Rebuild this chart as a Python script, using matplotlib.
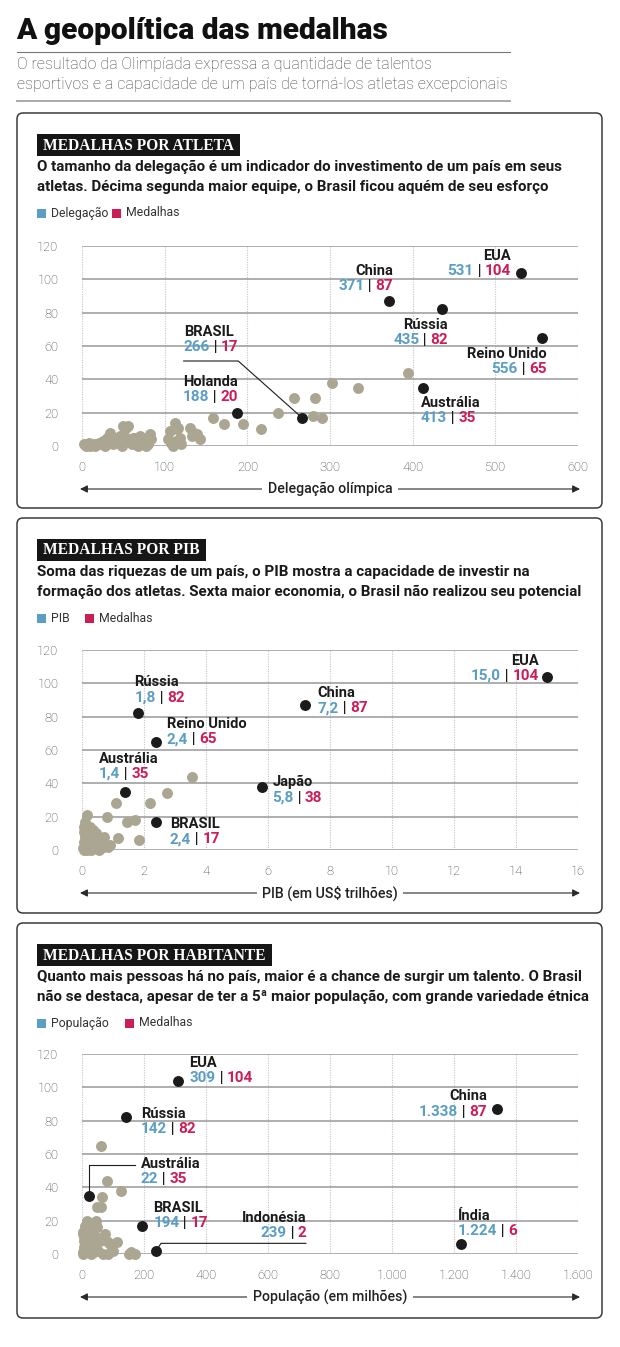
import matplotlib
matplotlib.use("Agg")
import matplotlib.pyplot as plt
from matplotlib.patches import FancyBboxPatch, Rectangle

W, H = 620, 1347
FONT = ["Roboto", "DejaVu Sans"]
SERIF = ["Liberation Serif", "DejaVu Serif"]

BLUE = "#5b9ec4"
RED = "#cc1d55"
GRAY_DOT = "#aba692"
DARK = "#1b1b1b"

# ---- painel 1: delegação x medalhas ----
atl_nomes = ["EUA", "China", "Rússia", "Reino Unido", "Austrália", "Holanda", "BRASIL"]
atl_deleg = [531, 371, 435, 556, 413, 188, 266]
atl_medal = [104, 87, 82, 65, 35, 20, 17]
atl_outros_x = [2, 8, 14, 20, 26, 30, 34, 36, 42, 46, 50, 52, 54, 58, 62, 66, 70, 72, 76, 80,
                82, 84, 5, 10, 16, 22, 28, 38, 44, 48, 60, 68, 74, 78, 40, 56, 64,
                106, 112, 115, 104, 108, 114, 118, 131, 135, 139, 143, 133, 110, 116, 120,
                158, 172, 195, 216, 237, 256, 282, 280, 290, 302, 334, 394]
atl_outros_y = [1, 2, 1, 2, 3, 5, 8, 4, 4, 6, 12, 10, 4, 4, 5, 3, 6, 4, 3, 1,
                7, 4, 0, 0, 0, 1, 0, 1, 2, 0, 1, 0, 1, 0, 3, 12, 5,
                9, 14, 10, 4, 2, 3, 5, 11, 8, 7, 4, 6, 0, 11, 1,
                17, 13, 13, 10, 20, 29, 29, 18, 17, 38, 35, 44]

# ---- painel 2: PIB x medalhas ----
pib_nomes = ["EUA", "Rússia", "China", "Reino Unido", "Austrália", "Japão", "BRASIL"]
pib_valor = [15.0, 1.8, 7.2, 2.4, 1.4, 5.8, 2.4]
pib_medal = [104, 82, 87, 65, 35, 38, 17]
pib_outros_x = [3.55, 2.75, 2.2, 1.1, 0.82, 1.46, 1.72, 1.15, 1.85,
                0.15, 0.1, 0.05, 0.2, 0.3, 0.46, 0.62, 0.73, 0.84, 0.26, 0.1, 0.15,
                0.42, 0.6, 0.3, 0.4, 0.05, 0.25, 0.36, 0.5, 0.67, 0.9, 0.46, 0.05,
                0.1, 0.2, 0.35, 0.55, 0.02, 0.08, 0.18, 0.28, 0.12, 0.7]
pib_outros_y = [44, 34, 28, 28, 20, 17, 18, 7, 6,
                21, 17, 14, 12, 10, 9, 6, 3, 2, 4, 2, 0,
                1, 1, 6, 5, 5, 14, 12, 4, 2, 3, 10, 0,
                8, 7, 2, 0, 1, 11, 3, 0, 13, 8]

# ---- painel 3: população x medalhas ----
pop_nomes = ["EUA", "Rússia", "China", "Austrália", "BRASIL", "Indonésia", "Índia"]
pop_valor = [309, 142, 1338, 22, 194, 239, 1224]
pop_medal = [104, 82, 87, 35, 17, 2, 6]
pop_outros_x = [62, 82, 127, 65, 60, 49, 17, 45, 10, 34, 46, 4, 41, 11, 16, 75, 3, 9,
                113, 83, 26, 90, 58, 36, 10, 4, 69, 101, 150, 170, 158, 85, 31, 53,
                48, 26, 15, 5, 8, 2, 20, 30, 40, 12, 22, 7]
pop_outros_y = [65, 44, 38, 34, 28, 28, 20, 20, 17, 18, 17, 13, 11, 14, 13, 12, 12, 12,
                7, 7, 10, 6, 8, 4, 2, 0, 0, 2, 0, 0, 1, 0, 6, 2,
                16, 14, 19, 8, 4, 1, 3, 0, 1, 6, 9, 10]

y_ticks = [0, 20, 40, 60, 80, 100, 120]
atl_xticks = [0, 100, 200, 300, 400, 500, 600]
pib_xticks = [0, 2, 4, 6, 8, 10, 12, 14, 16]
pop_xticks = [0, 200, 400, 600, 800, 1000, 1200, 1400, 1600]
pop_xlabels = ["0", "200", "400", "600", "800", "1.000", "1.200", "1.400", "1.600"]


def fmt_int(v):
    return f"{v:,}".replace(",", ".")


def fmt_pib(v):
    return f"{v:.1f}".replace(".", ",")


fig = plt.figure(figsize=(W / 100, H / 100), dpi=100)
renderer = fig.canvas.get_renderer()
bg = fig.add_axes([0, 0, 1, 1], zorder=0)
bg.set_xlim(0, W)
bg.set_ylim(H, 0)
bg.axis("off")

# cabeçalho
bg.text(16, 31, "A geopolítica das medalhas", fontsize=21.5, fontweight="black",
        family=FONT, color="#111", va="center", ha="left")
bg.plot([17, 510], [52, 52], color="#777", lw=0.8)
bg.text(17, 65, "O resultado da Olimpíada expressa a quantidade de talentos",
        fontsize=11.5, fontweight="light", family=FONT, color="#444", va="center")
bg.text(17, 85, "esportivos e a capacidade de um país de torná-los atletas excepcionais",
        fontsize=11.5, fontweight="light", family=FONT, color="#444", va="center")
bg.plot([17, 510], [101, 101], color="#aaa", lw=1.4)


def rotulo(ax, x, y, nome, v1, v2, ha="left"):
    kw = dict(fontsize=11, fontweight="bold", family=FONT)
    kn = dict(fontsize=10.5, fontweight="bold", family=FONT)
    partes = [(v1, BLUE), (" | ", DARK), (v2, RED)]
    if ha == "left":
        t = ax.text(x, y, partes[0][0], color=partes[0][1], ha="left", va="center", **kw)
        ancora = t
        for s, c in partes[1:]:
            t = ax.annotate(s, xy=(1, 0), xycoords=t, ha="left", va="bottom", color=c, **kw)
        ax.annotate(nome, xy=(0, 1), xycoords=ancora, xytext=(0, 0.8),
                    textcoords="offset points", ha="left", va="bottom", color=DARK, **kn)
    else:
        t = ax.text(x, y, partes[2][0], color=partes[2][1], ha="right", va="center", **kw)
        ancora = t
        for s, c in partes[1::-1]:
            t = ax.annotate(s, xy=(0, 0), xycoords=t, ha="right", va="bottom", color=c, **kw)
        ax.annotate(nome, xy=(1, 1), xycoords=ancora, xytext=(0, 0.8),
                    textcoords="offset points", ha="right", va="bottom", color=DARK, **kn)


def painel(top, titulo, desc, leg1, leg2_x, y0, x_max, xticks, xlabels, xlabel):
    # moldura
    bg.add_patch(FancyBboxPatch((17, top), 585, 395, boxstyle="round,pad=0,rounding_size=6",
                                fc="white", ec="#3a3a3a", lw=1.1))
    th = bg.text(43, top + 32.5, titulo, fontsize=11.2, fontweight="bold", family=SERIF,
                 color="white", va="center", zorder=3)
    larg = th.get_window_extent(renderer=renderer).width
    bg.add_patch(Rectangle((37, top + 21), larg + 12, 22, fc="#161616", ec="none", zorder=2))
    bg.text(37, top + 54, desc[0], fontsize=10.9, fontweight="bold", family=FONT,
            color="#1a1a1a", va="center")
    bg.text(37, top + 74, desc[1], fontsize=10.9, fontweight="bold", family=FONT,
            color="#1a1a1a", va="center")
    ly = top + 100
    bg.add_patch(Rectangle((37, ly - 4.5), 9, 9, fc=BLUE, ec="none"))
    bg.text(51, ly, leg1, fontsize=8.8, family=FONT, color="#333", va="center")
    bg.add_patch(Rectangle((leg2_x, ly - 4.5), 9, 9, fc=RED, ec="none"))
    bg.text(leg2_x + 14, ly, "Medalhas", fontsize=8.8, family=FONT, color="#333", va="center")

    # eixo com setas
    ay = y0 + 43
    bg.annotate("", xy=(580, ay), xytext=(80, ay),
                arrowprops=dict(arrowstyle="<|-|>", color="#2a2a2a", lw=0.8,
                                mutation_scale=11, shrinkA=0, shrinkB=0))
    bg.text(330, ay, xlabel, fontsize=10.2, fontweight="medium", family=FONT, color="#222",
            ha="center", va="center",
            bbox=dict(fc="white", ec="none", pad=4))

    ax = fig.add_axes([82 / W, 1 - y0 / H, 496 / W, 200 / H], zorder=2)
    ax.set_facecolor("none")
    ax.set_xlim(0, x_max)
    ax.set_ylim(0, 120)
    for s in ax.spines.values():
        s.set_visible(False)
    ax.set_yticks(y_ticks)
    ax.set_xticks(xticks)
    ax.set_xticklabels(xlabels)
    ax.yaxis.grid(True, color="#999999", lw=1.1)
    ax.xaxis.grid(True, color="#c4c4c4", lw=0.8, ls=(0, (1, 1.2)))
    ax.set_axisbelow(True)
    ax.tick_params(length=0, labelsize=9.3, labelcolor="#3a3a3a")
    ax.tick_params(axis="y", pad=17)
    ax.tick_params(axis="x", pad=11)
    for lab in ax.get_xticklabels() + ax.get_yticklabels():
        lab.set_family(FONT)
        lab.set_fontweight("light")
    return ax


# ---------- painel 1 ----------
ax1 = painel(113, "MEDALHAS POR ATLETA",
             ["O tamanho da delegação é um indicador do investimento de um país em seus",
              "atletas. Décima segunda maior equipe, o Brasil ficou aquém de seu esforço"],
             "Delegação", 112, 446, 600, atl_xticks, [str(v) for v in atl_xticks],
             "Delegação olímpica")
ax1.scatter(atl_outros_x, atl_outros_y, s=62, color=GRAY_DOT, lw=0, zorder=3, clip_on=False)
ax1.scatter(atl_deleg, atl_medal, s=62, color=DARK, lw=0, zorder=4, clip_on=False)
pos1 = {"EUA": (519, 105.2, "right"), "China": (376.5, 95.8, "right"),
        "Rússia": (443, 63.8, "right"), "Reino Unido": (562, 46, "right"),
        "Austrália": (410, 16.7, "left"), "Holanda": (122, 29.2, "left"),
        "BRASIL": (123, 59.6, "left")}
for n, d, m in zip(atl_nomes, atl_deleg, atl_medal):
    x, y, ha = pos1[n]
    rotulo(ax1, x, y, n, fmt_int(d), str(m), ha)
bi = atl_nomes.index("BRASIL")
ax1.plot([123, 189, atl_deleg[bi]], [51, 51, atl_medal[bi]], color=DARK, lw=0.8, zorder=3)

# ---------- painel 2 ----------
ax2 = painel(518, "MEDALHAS POR PIB",
             ["Soma das riquezas de um país, o PIB mostra a capacidade de investir na",
              "formação dos atletas. Sexta maior economia, o Brasil não realizou seu potencial"],
             "PIB", 85, 850, 16, pib_xticks, [str(v) for v in pib_xticks],
             "PIB (em US$ trilhões)")
ax2.scatter(pib_outros_x, pib_outros_y, s=62, color=GRAY_DOT, lw=0, zorder=3, clip_on=False)
ax2.scatter(pib_valor, pib_medal, s=62, color=DARK, lw=0, zorder=4, clip_on=False)
pos2 = {"EUA": (14.73, 104.6, "right"), "Rússia": (1.69, 91.5, "left"),
        "China": (7.6, 85, "left"), "Reino Unido": (2.73, 66.5, "left"),
        "Austrália": (0.54, 45.6, "left"), "Japão": (6.14, 31.5, "left"),
        "BRASIL": (2.83, 6.5, "left")}
for n, v, m in zip(pib_nomes, pib_valor, pib_medal):
    x, y, ha = pos2[n]
    rotulo(ax2, x, y, n, fmt_pib(v), str(m), ha)

# ---------- painel 3 ----------
ax3 = painel(923, "MEDALHAS POR HABITANTE",
             ["Quanto mais pessoas há no país, maior é a chance de surgir um talento. O Brasil",
              "não se destaca, apesar de ter a 5ª maior população, com grande variedade étnica"],
             "População", 125, 1254, 1600, pop_xticks, pop_xlabels,
             "População (em milhões)")
ax3.scatter(pop_outros_x, pop_outros_y, s=62, color=GRAY_DOT, lw=0, zorder=3, clip_on=False)
ax3.scatter(pop_valor, pop_medal, s=62, color=DARK, lw=0, zorder=4, clip_on=False)
pos3 = {"EUA": (347, 105.4, "left"), "Rússia": (189.5, 75.2, "left"),
        "China": (1307, 85.5, "right"), "Austrália": (189.5, 44.9, "left"),
        "BRASIL": (230, 18.4, "left"), "Indonésia": (725, 12.6, "right"),
        "Índia": (1212, 13.9, "left")}
for n, v, m in zip(pop_nomes, pop_valor, pop_medal):
    x, y, ha = pos3[n]
    rotulo(ax3, x, y, n, fmt_int(v), str(m), ha)
ai = pop_nomes.index("Austrália")
ax3.plot([172, pop_valor[ai], pop_valor[ai]], [53.2, 53.2, pop_medal[ai]],
         color=DARK, lw=0.8, zorder=3)
ii = pop_nomes.index("Indonésia")
ax3.plot([722, 255, pop_valor[ii]], [6.4, 6.4, pop_medal[ii]], color=DARK, lw=0.8, zorder=3)

fig.savefig("out.png", dpi=100)
